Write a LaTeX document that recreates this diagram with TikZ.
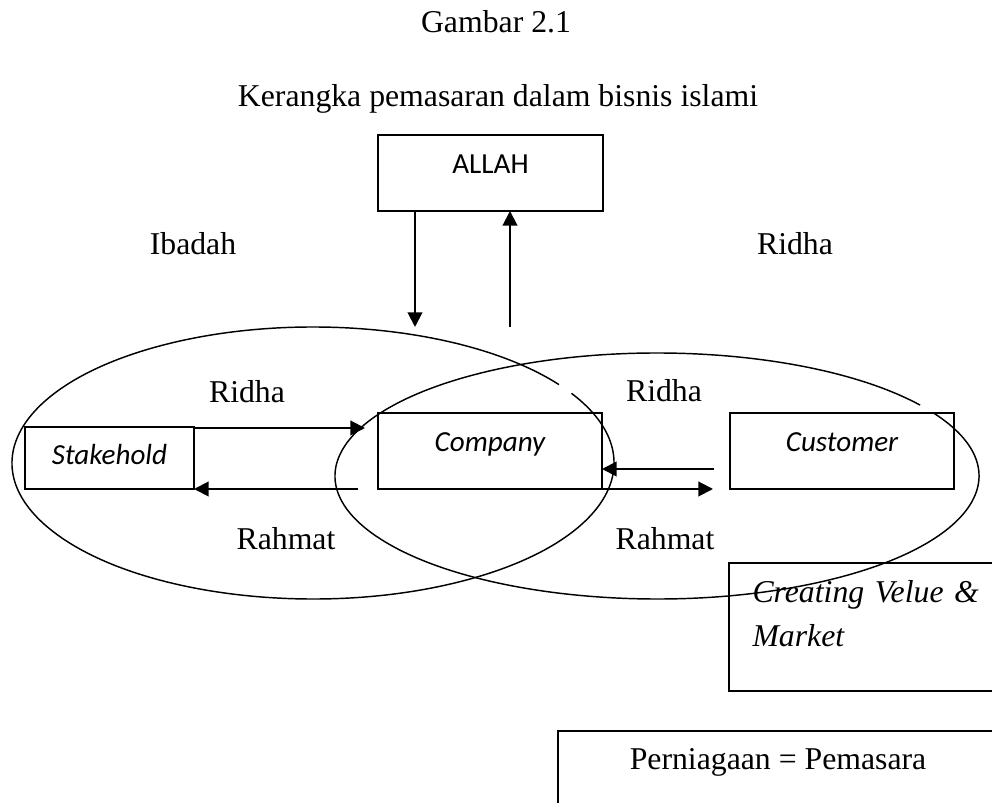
\documentclass[tikz,border=0pt]{standalone}
\usepackage{fontspec}
\setmainfont{Liberation Serif}
\newfontfamily\calibri{Carlito}
\usepackage{tikz}
\usetikzlibrary{arrows.meta}
\newdimen\pxu
\pxu=0.378pt
\tikzset{
	textbox/.style={draw, line width=0.75pt, inner sep=0pt, outer sep=0pt, anchor=north west,
		font=\calibri\fontsize{11}{13}\selectfont},
	wordtext/.style={inner sep=0pt, anchor=base, font=\fontsize{12}{14}\selectfont},
	thickarrow/.style={line width=0.75pt, -{Triangle[length=5.5pt,width=5.5pt]}}
}
\newcommand{\gapellipse}[3]{\draw[line width=0.55pt] (#1) ++(-30.8:#2 and #3)
					arc[start angle=-30.8, end angle=324.8, x radius=#2, y radius=#3];}

\begin{document}
\begin{tikzpicture}[x=0.378pt, y=-0.378pt]
	\useasboundingbox (0,0) rectangle (992,803);
	\clip (0,0) rectangle (992,803);

	% headings
	\node[wordtext] (gambar) at (496,33) {Gambar 2.1};
	\node[wordtext] (kerangka) at (498,107) {Kerangka pemasaran dalam bisnis islami};

	% the two circles
	\gapellipse{313,463}{301}{136}
	\gapellipse{657,476}{322}{123}

	% boxes
	\node[textbox, minimum width=225\pxu, text height=39\pxu, text depth=37\pxu] (allah) at (378,135) {ALLAH};
	\node[textbox, minimum width=169\pxu, text height=38\pxu, text depth=24\pxu] (stakehold) at (25,427) {\itshape Stakehold};
	\node[textbox, minimum width=224\pxu, text height=39\pxu, text depth=37\pxu] (company) at (378,413) {\itshape Company};
	\node[textbox, minimum width=224\pxu, text height=39\pxu, text depth=37\pxu] (customer) at (730,413) {\itshape Customer};
	\node[textbox, minimum width=270\pxu, minimum height=128\pxu] (value) at (729,563) {};
	\node[inner sep=0pt, anchor=base west, text width=235\pxu, align=left,
		font=\itshape\fontsize{12}{16.3}\selectfont] (valuetext) at (752,603) {Creating Velue \&\\Market};
	\node[textbox, font=\fontsize{12}{14}\selectfont, minimum width=440\pxu, text height=39\pxu, text depth=37\pxu] (niaga) at (558,731) {Perniagaan = Pemasara};

	% labels
	\node[wordtext] (ibadah) at (193,255) {Ibadah};
	\node[wordtext] (ridhatop) at (795,255) {Ridha};
	\node[wordtext] (ridhaleft) at (247,403) {Ridha};
	\node[wordtext] (ridharight) at (664,402) {Ridha};
	\node[wordtext] (rahmatleft) at (286,550) {Rahmat};
	\node[wordtext] (rahmatright) at (665,550) {Rahmat};

	% arrows
	\coordinate (ibadahend) at (415,327);
	\coordinate (ridhastart) at (510,327);
	\coordinate (ridhaleftend) at (365,428);
	\coordinate (rahmatleftstart) at (358,489);
	\coordinate (ridharightstart) at (714,469);
	\coordinate (rahmatrightend) at (713,489);

	\draw[thickarrow] (allah.south -| ibadahend) -- (ibadahend);
	\draw[thickarrow] (ridhastart) -- (allah.south -| ridhastart);
	\draw[thickarrow] (stakehold.north east |- ridhaleftend) -- (ridhaleftend);
	\draw[thickarrow] (rahmatleftstart) -- (stakehold.south east);
	\draw[thickarrow] (ridharightstart) -- (company.east |- ridharightstart);
	\draw[thickarrow] (company.south east) -- (rahmatrightend);

\end{tikzpicture}
\end{document}
